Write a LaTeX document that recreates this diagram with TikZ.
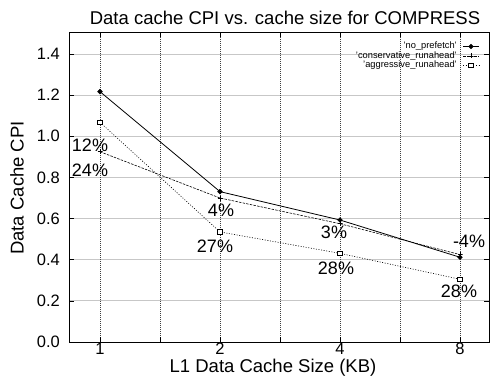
\documentclass[tikz,border=0pt]{standalone}
\usepackage{fontspec}
\setmainfont{Liberation Sans}
\usetikzlibrary{shapes.geometric,calc}
\begin{document}
\begin{tikzpicture}[x=1pt,y=1pt,
  gridh/.style={draw=black!22, line width=1pt},
  gridv/.style={draw=black!75, line width=0.4pt, dash pattern=on 0.6pt off 1.4pt},
  frame/.style={draw=black, line width=0.9pt},
  tickmark/.style={draw=black, line width=0.7pt},
  ticklab/.style={inner sep=0pt, font=\fontsize{16.5}{18}\selectfont},
  axtitle/.style={inner sep=0pt, font=\fontsize{18.5}{20}\selectfont},
  pct/.style={inner sep=0pt, font=\fontsize{18}{20}\selectfont},
  legtext/.style={inner sep=0pt, anchor=east, font=\fontsize{9.3}{10}\selectfont},
  lnone/.style={draw=black, line width=0.8pt},
  lcons/.style={draw=black, line width=0.6pt, dash pattern=on 2.5pt off 1.2pt},
  laggr/.style={draw=black, line width=0.6pt, dash pattern=on 1pt off 1.6pt},
  mdia/.style={diamond, fill=black, draw=black, inner sep=0pt, minimum size=5pt},
  mplus/.style={rectangle, draw=none, inner sep=0pt, minimum size=5pt,
    path picture={\draw[black, line width=0.6pt]
      (path picture bounding box.north) -- (path picture bounding box.south)
      (path picture bounding box.west) -- (path picture bounding box.east);}},
  msq/.style={rectangle, draw=black, fill=white, line width=0.6pt, inner sep=0pt, minimum size=4.5pt}]
\useasboundingbox (0,0) rectangle (490,381);
\fill[white] (0,0) rectangle (490,381);
\begin{scope}[shift={(100,39)}, x=120pt, y=205.7pt]
  % grid
  \foreach \v in {0.2,0.4,0.6,0.8,1.0,1.2,1.4}
    \draw[gridh] (-0.258,\v) -- (3.242,\v);
  \foreach \i in {0,0.5,1,1.5,2,2.5,3}
    \draw[gridv] (\i,0) -- (\i,1.505);
  % ticks
  \foreach \v in {0,0.2,0.4,0.6,0.8,1.0,1.2,1.4} {
    \draw[tickmark] (-0.258,\v) -- ++(5pt,0);
    \draw[tickmark] (3.242,\v) -- ++(-5pt,0);
  }
  \foreach \i in {0,0.5,1,1.5,2,2.5,3} {
    \draw[tickmark] (\i,0) -- ++(0,5pt);
    \draw[tickmark] (\i,1.505) -- ++(0,-5pt);
  }
  % frame
  \draw[frame] (-0.258,0) rectangle (3.242,1.505);
  % y tick labels
  \foreach \v/\t in {0/0.0,0.2/0.2,0.4/0.4,0.6/0.6,0.8/0.8,1.0/1.0,1.2/1.2,1.4/1.4}
    \node[ticklab, anchor=east] (yl\t) at (-0.333,\v) {\t};
  % x tick labels
  \node[ticklab, anchor=north] (xl1) at (0,-0.004) {1};
  \node[ticklab, anchor=north] (xl2) at (1,-0.004) {2};
  \node[ticklab, anchor=north] (xl4) at (2,-0.004) {4};
  \node[ticklab, anchor=north] (xl8) at (3,-0.004) {8};
  % data coordinates
  \coordinate (n1) at (0,1.217);
  \coordinate (n2) at (1,0.731);
  \coordinate (n4) at (2,0.593);
  \coordinate (n8) at (3,0.412);
  \coordinate (c1) at (0,0.925);
  \coordinate (c2) at (1,0.700);
  \coordinate (c4) at (2,0.575);
  \coordinate (c8) at (3,0.425);
  \coordinate (a1) at (0,1.068);
  \coordinate (a2) at (1,0.535);
  \coordinate (a4) at (2,0.431);
  \coordinate (a8) at (3,0.305);
  % lines
  \draw[lnone] (n1) -- (n2) -- (n4) -- (n8);
  \draw[lcons] (c1) -- (c2) -- (c4) -- (c8);
  \draw[laggr] (a1) -- (a2) -- (a4) -- (a8);
  % markers
  \foreach \p in {n1,n2,n4,n8} \node[mdia] (m\p) at (\p) {};
  \foreach \p in {c1,c2,c4,c8} \node[mplus] (m\p) at (\p) {};
  \foreach \p in {a1,a2,a4,a8} \node[msq] (m\p) at (\p) {};
\end{scope}
% percentage labels (pixel positions, y flipped)
\node[pct] (p12) at (90,381-145) {12\%};
\node[pct] (p24) at (90,381-170) {24\%};
\node[pct] (p4) at (221,381-210) {4\%};
\node[pct] (p27) at (215,381-246) {27\%};
\node[pct] (p3) at (334,381-232) {3\%};
\node[pct] (p28a) at (336,381-268) {28\%};
\node[pct] (pm4) at (469,381-241) {-4\%};
\node[pct] (p28b) at (459,381-291) {28\%};
% legend
\node[legtext] (lg1) at (457,381-46.5) {'no\_prefetch'};
\node[legtext] (lg2) at (457,381-56) {'conservative\_runahead'};
\node[legtext] (lg3) at (457,381-65.5) {'aggressive\_runahead'};
\coordinate (ls1) at (463,381-46.5); \coordinate (le1) at (479,381-46.5);
\coordinate (ls2) at (463,381-56); \coordinate (le2) at (479,381-56);
\coordinate (ls3) at (463,381-65.5); \coordinate (le3) at (479,381-65.5);
\draw[lnone] (ls1) -- (le1);
\draw[lcons] (ls2) -- (le2);
\draw[laggr] (ls3) -- (le3);
\node[mdia] (lm1) at ($(ls1)!0.5!(le1)$) {};
\node[mplus] (lm2) at ($(ls2)!0.5!(le2)$) {};
\node[msq] (lm3) at ($(ls3)!0.5!(le3)$) {};
% titles
\node[axtitle] (title) at (285,381-18) {Data cache CPI vs. cache size for COMPRESS};
\node[axtitle, anchor=base] (xtitle) at (273,9) {L1 Data Cache Size (KB)};
\node[axtitle, rotate=90] (ytitle) at (17,381-188) {Data Cache CPI};
\end{tikzpicture}
\end{document}
